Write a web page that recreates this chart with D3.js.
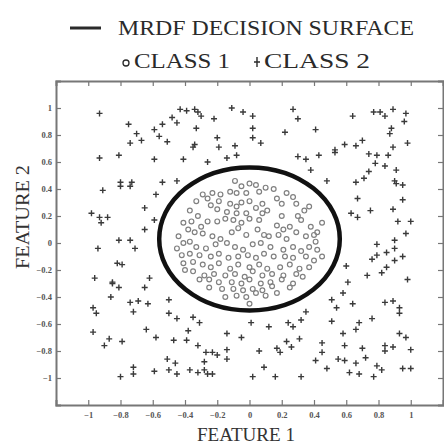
<!DOCTYPE html>
<html>
<head>
<meta charset="utf-8">
<script src="https://cdnjs.cloudflare.com/ajax/libs/d3/7.8.5/d3.min.js"></script>
<style>
  body { margin: 0; background: #fff; }
  svg { display: block; }
  .tick text { font-family: "Liberation Serif", "Times New Roman", serif; font-size: 8.5px; font-weight: bold; fill: #555; }
</style>
</head>
<body>
<div id="chart"></div>
<script>
// decision surface (ellipse in feature space)
var surface = {cx: 0, cy: 0.03, rx: 0.56, ry: 0.53};

var xTicks = [-1, -0.8, -0.6, -0.4, -0.2, 0, 0.2, 0.4, 0.6, 0.8, 1];
var yTicks = [-1, -0.8, -0.6, -0.4, -0.2, 0, 0.2, 0.4, 0.6, 0.8, 1];

var seriesNames = ["MRDF DECISION SURFACE", "CLASS 1", "CLASS 2"];

// class 1 (o) - inside the surface
var class1 = [
  [-0.09,0.46],[-0.05,0.42],[0.00,0.44],[0.04,0.43],[0.06,0.38],[0.10,0.41],[-0.12,0.38],[-0.08,0.37],
  [-0.02,0.37],[-0.23,0.37],[-0.29,0.36],[-0.26,0.33],[-0.18,0.36],[-0.19,0.31],[0.23,0.37],[0.27,0.34],
  [0.17,0.33],[0.20,0.29],[-0.33,0.31],[-0.24,0.28],[-0.12,0.29],[-0.08,0.27],[0.00,0.31],[0.04,0.26],
  [0.08,0.29],[0.11,0.24],[-0.14,0.23],[-0.08,0.22],[-0.02,0.22],[0.08,0.22],[0.29,0.29],[0.34,0.24],
  [0.37,0.27],[-0.37,0.24],[-0.41,0.15],[-0.36,0.16],[-0.32,0.20],[-0.26,0.16],[-0.20,0.16],[-0.15,0.18],
  [-0.10,0.17],[-0.05,0.15],[0.00,0.18],[0.06,0.17],[0.05,0.10],[0.17,0.13],[0.21,0.10],[0.25,0.12],
  [0.32,0.17],[0.38,0.12],[0.42,0.08],[0.40,0.06],[-0.38,0.10],[-0.34,0.08],[-0.29,0.07],[-0.23,0.05],
  [-0.18,0.03],[-0.11,0.08],[-0.07,0.11],[-0.02,0.06],[0.09,0.06],[0.18,0.06],[0.23,0.03],[0.29,0.08],
  [0.35,0.05],[-0.45,-0.04],[-0.41,0.00],[-0.37,0.01],[-0.33,-0.03],[-0.27,-0.04],[-0.21,-0.01],[-0.14,0.00],
  [-0.09,-0.03],[-0.04,-0.05],[0.02,-0.01],[0.07,0.00],[0.13,-0.03],[0.21,-0.05],[0.27,-0.03],[0.32,-0.06],
  [0.37,-0.03],[0.41,0.01],[-0.42,-0.09],[-0.37,-0.08],[-0.31,-0.09],[-0.24,-0.10],[-0.19,-0.08],[-0.13,-0.11],
  [-0.07,-0.10],[-0.01,-0.09],[0.04,-0.11],[0.09,-0.08],[0.15,-0.10],[0.22,-0.10],[0.27,-0.11],[0.35,-0.10],
  [0.40,-0.13],[0.45,-0.10],[-0.41,-0.15],[-0.35,-0.14],[-0.29,-0.16],[-0.24,-0.18],[-0.19,-0.15],[-0.12,-0.19],
  [-0.07,-0.16],[0.00,-0.18],[0.06,-0.16],[0.11,-0.19],[0.19,-0.18],[0.25,-0.16],[0.31,-0.19],[0.37,-0.18],
  [-0.35,-0.21],[-0.28,-0.24],[-0.22,-0.23],[-0.15,-0.24],[-0.09,-0.23],[-0.03,-0.25],[0.02,-0.21],[0.08,-0.24],
  [0.14,-0.23],[0.21,-0.24],[0.29,-0.23],[-0.31,-0.27],[-0.25,-0.27],[-0.19,-0.29],[-0.11,-0.29],[-0.05,-0.30],
  [0.00,-0.27],[0.07,-0.30],[0.13,-0.29],[0.20,-0.27],[-0.17,-0.34],[-0.10,-0.34],[-0.04,-0.35],[0.02,-0.34],
  [0.08,-0.35],[0.14,-0.32],[0.27,-0.30],[-0.08,-0.39],[-0.02,-0.40],[0.04,-0.37],[0.10,-0.39],[0.17,-0.37],
  [0.00,-0.45],[-0.40,-0.20],[-0.44,0.05],[-0.30,0.12],[0.30,0.20],[0.15,0.40],[-0.05,0.30],[0.12,0.05],
  [-0.25,-0.33],[0.25,-0.33],[0.33,-0.25],[0.42,-0.05],[0.45,0.15],[-0.20,0.25],[0.20,0.20],[-0.15,-0.40]
];

// class 2 (+) - outside the surface
var class2 = [
  [-0.93,0.96],[-0.75,0.88],[-0.70,0.81],[-0.74,0.74],[-0.67,0.76],[-0.93,0.63],[-0.81,0.65],[-0.59,0.84],
  [-0.54,0.88],[-0.56,0.79],[-0.51,0.75],[-0.59,0.62],[-0.48,0.93],[-0.45,0.89],[-0.43,0.99],[-0.39,0.98],
  [-0.34,0.99],[-0.32,0.97],[-0.30,0.94],[-0.33,0.85],[-0.22,0.92],[-0.11,1.00],[-0.04,0.97],[-0.20,0.78],
  [-0.19,0.71],[-0.34,0.73],[-0.35,0.71],[-0.09,0.72],[-0.08,0.65],[-0.14,0.63],[-0.26,0.60],[-0.41,0.62],
  [-0.54,0.45],[-0.45,0.46],[-0.80,0.45],[-0.73,0.45],[0.02,0.94],[0.02,0.85],[0.02,0.78],[0.07,0.74],
  [0.27,0.99],[0.30,0.92],[0.22,0.82],[0.41,0.84],[0.64,0.94],[0.77,0.97],[0.81,0.97],[0.84,0.94],
  [0.89,0.99],[0.97,0.96],[0.96,0.90],[0.88,0.85],[0.87,0.81],[0.98,0.74],[0.89,0.71],[0.70,0.76],
  [0.66,0.72],[0.59,0.73],[0.53,0.69],[0.53,0.67],[0.74,0.66],[0.79,0.65],[0.86,0.65],[0.78,0.59],
  [0.84,0.57],[0.91,0.54],[0.74,0.53],[0.71,0.48],[0.90,0.46],[0.30,0.64],[0.35,0.62],[0.43,0.65],
  [0.38,0.54],[0.48,0.46],[0.66,0.45],
  [-0.91,0.39],[-0.80,0.42],[-0.74,0.42],[-0.98,0.22],[-0.93,0.19],[-0.88,0.19],[-0.92,0.15],[-0.65,0.26],
  [-0.65,0.10],[-0.81,0.02],[-0.74,0.02],[-0.94,-0.04],[-0.71,-0.04],[-0.82,-0.15],[-0.79,-0.16],[-0.96,-0.26],
  [-0.85,-0.29],[-0.62,-0.26],[-0.58,0.36],[-0.59,0.17],
  [0.67,0.33],[0.63,0.22],[0.67,0.19],[0.75,0.24],[0.89,0.25],[0.91,0.44],[0.95,0.43],[0.95,0.32],
  [0.92,0.16],[1.00,0.16],[0.97,0.07],[0.79,-0.01],[0.90,0.02],[0.90,-0.04],[0.85,-0.07],[0.79,-0.09],
  [0.76,-0.12],[0.95,-0.10],[0.90,-0.13],[0.85,-0.18],[0.82,-0.22],[0.60,-0.17],[0.73,-0.24],[0.98,-0.27],
  [0.61,-0.29],
  [-0.85,-0.30],[-0.81,-0.33],[-0.65,-0.33],[-0.86,-0.40],[-0.97,-0.48],[-0.95,-0.52],[-0.74,-0.44],[-0.69,-0.43],
  [-0.63,-0.45],[-0.72,-0.51],[-0.50,-0.42],[-0.50,-0.52],[-0.45,-0.56],[-0.35,-0.55],[-0.31,-0.59],[-0.97,-0.66],
  [-0.87,-0.71],[-0.90,-0.76],[-0.79,-0.73],[-0.64,-0.64],[-0.58,-0.70],[-0.47,-0.72],[-0.39,-0.72],[-0.38,-0.65],
  [-0.32,-0.76],[-0.27,-0.81],[-0.23,-0.81],[-0.20,-0.83],[-0.14,-0.79],[-0.14,-0.67],[-0.14,-0.86],[-0.51,-0.86],
  [-0.46,-0.89],[-0.28,-0.88],[-0.72,-0.92],[-0.72,-0.97],[-0.59,-0.95],[-0.50,-0.94],[-0.45,-0.97],[-0.37,-0.94],
  [-0.32,-0.96],[-0.28,-0.94],[-0.26,-0.97],[-0.23,-0.97],[-0.80,-0.99],[-0.05,-0.70],[0.06,-0.80],
  [0.58,-0.37],[0.51,-0.42],[0.54,-0.48],[0.64,-0.45],[0.84,-0.44],[0.89,-0.43],[0.93,-0.48],[0.93,-0.52],
  [0.35,-0.51],[0.32,-0.57],[0.24,-0.59],[0.27,-0.62],[0.12,-0.62],[0.01,-0.59],[0.51,-0.58],[0.68,-0.59],
  [0.66,-0.64],[0.76,-0.56],[0.58,-0.67],[0.93,-0.67],[0.97,-0.70],[0.31,-0.71],[0.23,-0.73],[0.26,-0.77],
  [0.17,-0.78],[0.19,-0.81],[0.45,-0.74],[0.45,-0.81],[0.41,-0.87],[0.59,-0.76],[0.70,-0.78],[0.72,-0.85],
  [0.84,-0.76],[0.84,-0.80],[0.89,-0.77],[1.00,-0.79],[0.55,-0.86],[0.59,-0.87],[0.66,-0.89],[0.79,-0.91],
  [0.82,-0.94],[0.95,-0.93],[1.00,-0.93],[0.48,-0.93],[0.09,-0.92],[0.62,-0.96],[0.68,-0.97],[0.77,-0.99],
  [0.02,-0.99],[0.16,-0.99],[0.32,-0.99]
];

var W = 444, H = 446;
var margin = {top: 81, right: 1, bottom: 41, left: 56};
var w = W - margin.left - margin.right,
    h = H - margin.top - margin.bottom;

var x = d3.scaleLinear().domain([-1.2, 1.2]).range([0, w]);
var y = d3.scaleLinear().domain([-1.2, 1.2]).range([h, 0]);

var svg = d3.select("#chart").append("svg")
    .attr("width", W)
    .attr("height", H);

var serif = '"Liberation Serif", "Times New Roman", serif';
var ink = "#2a2a2a";

// legend
var legend = svg.append("g").attr("class", "legend");
legend.append("line")
    .attr("x1", 70).attr("x2", 101)
    .attr("y1", 28).attr("y2", 28)
    .attr("stroke", ink).attr("stroke-width", 3);
legend.append("text")
    .attr("x", 118).attr("y", 35)
    .attr("font-family", serif).attr("font-size", 21)
    .attr("textLength", 296).attr("lengthAdjust", "spacingAndGlyphs")
    .attr("fill", ink)
    .text(seriesNames[0]);
legend.append("circle")
    .attr("cx", 126).attr("cy", 63).attr("r", 3)
    .attr("fill", "none").attr("stroke", ink).attr("stroke-width", 1.3);
legend.append("text")
    .attr("x", 134).attr("y", 68)
    .attr("font-family", serif).attr("font-size", 21)
    .attr("textLength", 96).attr("lengthAdjust", "spacingAndGlyphs")
    .attr("fill", ink)
    .text(seriesNames[1]);
legend.append("path")
    .attr("transform", "translate(257,62)")
    .attr("d", "M-3,0H3M0,-5V5")
    .attr("stroke", ink).attr("stroke-width", 1.4);
legend.append("text")
    .attr("x", 264).attr("y", 68)
    .attr("font-family", serif).attr("font-size", 21)
    .attr("textLength", 106).attr("lengthAdjust", "spacingAndGlyphs")
    .attr("fill", ink)
    .text(seriesNames[2]);

var plot = svg.append("g")
    .attr("transform", "translate(" + margin.left + "," + margin.top + ")");

// class 1 circles
plot.append("g")
    .selectAll("circle")
    .data(class1)
    .enter()
    .append("circle")
    .attr("cx", function(d) { return x(d[0]); })
    .attr("cy", function(d) { return y(d[1]); })
    .attr("r", 2.4)
    .attr("fill", "none")
    .attr("stroke", "#808080")
    .attr("stroke-width", 1.2);

// class 2 crosses
plot.append("g")
    .selectAll("path")
    .data(class2)
    .enter()
    .append("path")
    .attr("transform", function(d) { return "translate(" + x(d[0]) + "," + y(d[1]) + ")"; })
    .attr("d", "M-3,0H3M0,-3V3")
    .attr("stroke", "#3a3a3a")
    .attr("stroke-width", 1.4);

// decision surface
plot.append("ellipse")
    .attr("cx", x(surface.cx))
    .attr("cy", y(surface.cy))
    .attr("rx", x(surface.rx) - x(0))
    .attr("ry", y(0) - y(surface.ry))
    .attr("fill", "none")
    .attr("stroke", "#111")
    .attr("stroke-width", 4.5);

// axes, ticks pointing inwards
var fmt = d3.format("");
plot.append("g")
    .attr("transform", "translate(0," + h + ")")
    .call(d3.axisBottom(x).tickValues(xTicks).tickSize(-5).tickPadding(7).tickFormat(fmt));
plot.append("g")
    .call(d3.axisTop(x).tickValues(xTicks).tickSize(-5).tickFormat(""));
plot.append("g")
    .call(d3.axisLeft(y).tickValues(yTicks).tickSize(-5).tickPadding(4).tickFormat(fmt));
plot.append("g")
    .attr("transform", "translate(" + w + ",0)")
    .call(d3.axisRight(y).tickValues(yTicks).tickSize(-5).tickFormat(""));

plot.selectAll(".domain").attr("stroke", "#777").attr("stroke-width", 2);
plot.selectAll(".tick line").attr("stroke", "#777").attr("stroke-width", 1.2);

// axis titles
svg.append("text")
    .attr("x", 197).attr("y", 441)
    .attr("font-family", serif).attr("font-size", 18)
    .attr("textLength", 98).attr("lengthAdjust", "spacingAndGlyphs")
    .attr("fill", "#333")
    .text("FEATURE 1");
svg.append("text")
    .attr("transform", "translate(29,269)rotate(-90)")
    .attr("font-family", serif).attr("font-size", 18)
    .attr("textLength", 104).attr("lengthAdjust", "spacingAndGlyphs")
    .attr("fill", "#333")
    .text("FEATURE 2");
</script>
</body>
</html>
